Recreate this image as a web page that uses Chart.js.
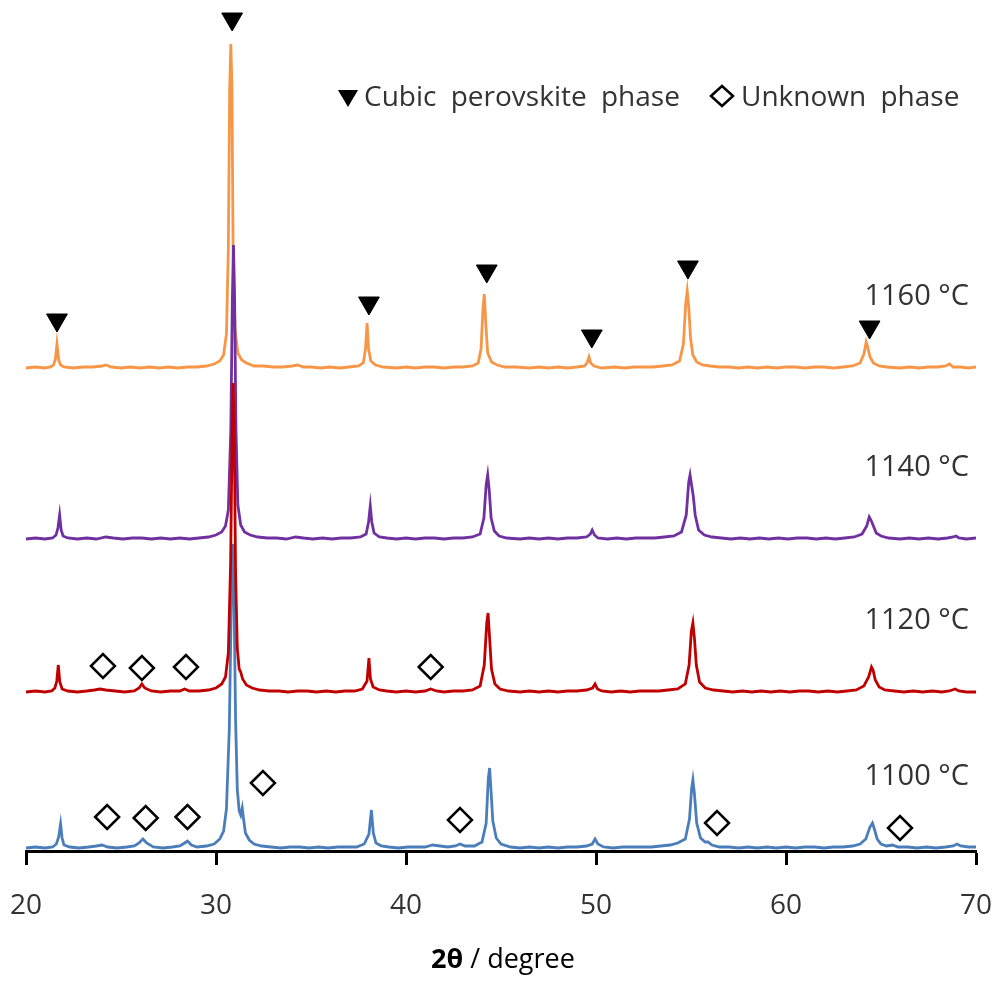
<!DOCTYPE html>
<html>
<head>
<meta charset="utf-8">
<title>XRD patterns</title>
<script src="https://cdn.jsdelivr.net/npm/chart.js@4.4.1/dist/chart.umd.min.js"></script>
<style>
  html, body { margin: 0; padding: 0; background: #fff; }
  #wrap { width: 1000px; height: 981px; }
</style>
</head>
<body>
<div id="wrap"><canvas id="xrd" width="1000" height="981"></canvas></div>
<script>
// 2θ (degree) and intensity above each pattern's own baseline (a.u.)
const theta1100 = [20.0,20.5,21.0,21.4,21.6,21.72,21.82,21.9,22.0,22.3,22.8,23.3,23.7,24.0,24.3,24.8,25.3,25.7,25.95,26.15,26.35,26.7,27.2,27.7,28.1,28.35,28.5,28.7,29.0,29.5,29.9,30.2,30.4,30.55,30.7,30.8,30.88,30.95,31.03,31.12,31.22,31.3,31.38,31.45,31.55,31.75,32.0,32.4,32.9,33.4,33.9,34.4,34.9,35.4,35.9,36.4,36.9,37.4,37.8,38.05,38.18,38.28,38.42,38.7,39.1,39.6,40.1,40.6,41.0,41.4,41.8,42.2,42.6,42.85,43.1,43.6,44.0,44.22,44.33,44.4,44.47,44.57,44.75,45.0,45.5,46.0,46.5,47.0,47.5,48.0,48.5,49.0,49.5,49.8,49.95,50.1,50.4,50.9,51.4,51.9,52.4,52.9,53.4,53.9,54.3,54.7,54.92,55.03,55.1,55.18,55.3,55.5,55.75,55.9,56.1,56.5,57.0,57.5,58.0,58.5,59.0,59.5,60.0,60.5,61.0,61.5,62.0,62.5,63.0,63.5,63.9,64.2,64.42,64.55,64.65,64.8,65.0,65.3,65.6,65.9,66.4,66.9,67.4,67.9,68.4,68.8,69.0,69.2,69.6,70.0];
const int1100   = [1,2,1,2,5,12,25,11,4,2,1,2,3,4,2,1,2,3,6,10,6,2,1,2,3,6,8,4,2,3,5,10,18,40,120,240,305,250,130,60,38,34,41,30,16,9,5,3,2,1,2,2,1,2,1,2,2,2,5,15,39,16,6,3,2,1,2,2,2,4,3,2,3,5,3,3,7,26,70,81,60,28,11,5,2,1,2,1,2,1,2,2,3,5,10,5,2,1,2,2,2,2,3,4,6,10,30,60,69,55,26,11,7,7,4,2,2,1,2,1,2,1,2,1,2,2,1,2,2,3,5,10,22,26,20,10,5,3,4,2,2,1,2,1,2,3,5,3,2,2];

const theta1120 = [20.0,20.5,21.0,21.35,21.52,21.62,21.7,21.78,21.9,22.2,22.7,23.2,23.6,23.9,24.2,24.7,25.2,25.7,25.95,26.1,26.25,26.6,27.1,27.6,28.1,28.35,28.6,29.1,29.6,30.0,30.3,30.5,30.65,30.77,30.85,30.9,30.96,31.03,31.12,31.22,31.3,31.4,31.6,31.9,32.3,32.8,33.3,33.8,34.3,34.8,35.3,35.8,36.3,36.8,37.3,37.7,37.95,38.05,38.13,38.27,38.6,39.0,39.5,40.0,40.5,41.0,41.3,41.6,42.0,42.5,43.0,43.5,43.9,44.12,44.25,44.32,44.4,44.5,44.68,44.95,45.4,46.0,46.5,47.0,47.5,48.0,48.5,49.0,49.5,49.82,49.95,50.08,50.3,50.8,51.3,51.8,52.3,52.8,53.3,53.8,54.3,54.7,54.9,55.02,55.1,55.18,55.28,55.45,55.75,56.2,56.7,57.2,57.7,58.2,58.7,59.2,59.7,60.2,60.7,61.2,61.7,62.2,62.7,63.2,63.7,64.1,64.35,64.5,64.58,64.7,64.9,65.2,65.7,66.2,66.7,67.2,67.7,68.2,68.6,68.9,69.1,69.5,70.0];
const int1120   = [1,2,1,2,5,12,28,11,4,2,1,2,3,4,3,2,1,2,5,9,5,2,1,2,2,4,2,2,3,5,9,16,40,130,260,310,260,120,45,24,21,14,8,5,3,2,2,1,2,2,1,2,1,2,2,4,12,35,14,6,3,2,1,2,1,2,4,2,1,2,2,3,7,28,70,80,55,24,9,4,2,1,2,1,2,1,2,2,3,5,9,4,2,1,2,1,2,2,2,3,4,9,28,62,70,55,28,11,5,3,2,1,2,1,2,1,2,1,2,2,1,2,1,2,3,7,16,26,23,13,6,3,2,1,2,1,2,1,2,4,2,1,1];

const theta1140 = [20.0,20.5,21.0,21.4,21.58,21.68,21.77,21.85,21.95,22.2,22.7,23.2,23.7,24.2,24.6,25.1,25.6,26.1,26.6,27.1,27.6,28.1,28.6,29.1,29.6,30.0,30.3,30.5,30.65,30.78,30.86,30.92,30.98,31.05,31.15,31.3,31.5,31.8,32.2,32.7,33.2,33.7,34.2,34.6,35.1,35.6,36.1,36.6,37.1,37.6,37.9,38.03,38.12,38.2,38.32,38.6,39.0,39.5,40.0,40.5,41.0,41.5,42.0,42.5,43.0,43.5,43.9,44.1,44.22,44.3,44.38,44.48,44.65,44.9,45.3,46.0,46.5,47.0,47.5,48.0,48.5,49.0,49.5,49.7,49.8,49.92,50.1,50.6,51.1,51.6,52.1,52.6,53.1,53.6,54.1,54.5,54.75,54.88,54.95,55.03,55.12,55.22,55.4,55.7,56.1,56.6,57.1,57.6,58.1,58.6,59.1,59.6,60.1,60.6,61.1,61.6,62.1,62.6,63.1,63.6,64.0,64.25,64.38,64.47,64.58,64.75,65.0,65.4,66.0,66.5,67.0,67.5,68.0,68.5,68.8,68.95,69.1,69.5,70.0];
const int1140   = [1,2,1,2,5,12,25,10,4,2,1,2,1,3,2,1,2,2,1,2,1,2,1,2,3,5,8,14,30,110,240,295,240,110,35,15,8,5,3,2,2,1,3,2,1,2,1,2,2,3,6,18,34,18,7,3,2,1,2,1,2,2,1,2,2,3,6,22,55,65,50,22,9,4,2,1,2,1,2,1,2,2,3,6,10,5,2,1,2,1,2,2,2,3,4,8,25,58,65,55,44,25,10,5,3,2,1,2,1,2,1,2,1,2,2,1,2,1,2,3,6,14,23,20,15,7,4,2,1,2,1,2,1,2,3,4,2,1,2];

const theta1160 = [20.0,20.5,21.0,21.3,21.45,21.55,21.63,21.72,21.82,22.0,22.5,23.0,23.5,24.0,24.2,24.5,25.0,25.5,26.0,26.5,27.0,27.5,28.0,28.5,29.0,29.5,29.9,30.2,30.4,30.55,30.65,30.72,30.78,30.84,30.9,31.0,31.15,31.35,31.6,32.0,32.5,33.0,33.5,34.0,34.3,34.6,35.0,35.5,36.0,36.5,37.0,37.5,37.75,37.87,37.95,38.03,38.15,38.4,38.8,39.5,40.0,40.5,41.0,41.5,42.0,42.5,43.0,43.5,43.8,43.95,44.05,44.12,44.2,44.3,44.5,44.8,45.2,45.8,46.5,47.0,47.5,48.0,48.5,49.0,49.4,49.55,49.63,49.72,49.9,50.3,51.0,51.5,52.0,52.5,53.0,53.5,54.0,54.4,54.6,54.72,54.8,54.88,54.98,55.1,55.3,55.6,56.0,56.5,57.0,57.5,58.0,58.5,59.0,59.5,60.0,60.5,61.0,61.5,62.0,62.5,63.0,63.5,63.9,64.1,64.22,64.3,64.42,64.6,64.9,65.3,66.0,66.5,67.0,67.5,68.0,68.4,68.6,68.8,69.2,69.6,70.0];
const int1160   = [1,2,1,2,4,10,25,9,4,2,1,2,2,3,4,2,1,2,1,2,1,2,1,2,2,3,5,8,14,35,120,280,325,280,120,40,16,9,6,3,3,2,2,3,4,2,2,1,2,1,2,3,6,20,46,20,8,4,2,1,2,1,2,2,1,2,2,3,6,20,60,75,45,16,7,4,2,2,1,2,1,2,1,2,3,7,12,6,3,1,2,1,2,2,2,3,4,8,25,65,78,62,30,14,7,4,3,2,2,1,2,1,2,1,2,2,1,2,2,1,2,3,6,15,27,22,12,6,3,2,1,2,1,2,2,3,5,2,2,1,2];

// vertical offset of each pattern in the stack
const traceLabels  = ['1100 °C', '1120 °C', '1140 °C', '1160 °C'];
const traceOffsets = [2, 158, 311, 482];
const traceColors  = ['#4a7ebb', '#c00000', '#7030a0', '#f79646'];

// peak markers (2θ, stacked intensity)
const cubicTheta   = [21.63, 30.85, 38.05, 44.25, 49.78, 54.84, 64.4];
const cubicY       = [531, 832, 548, 580, 515, 584, 524];
const unknownTheta = [24.05, 26.1, 28.42, 41.3, 24.27, 26.3, 28.5, 32.47, 42.84, 56.37, 66.0];
const unknownY     = [185, 183, 184, 184, 34, 33, 34, 68, 31, 28, 23];

const xTicks = [20, 30, 40, 50, 60, 70];

const FONT = '"Open Sans", "Noto Sans", sans-serif';
const TEXT_COLOR = '#333333';

const patterns = [
  { theta: theta1100, y: int1100, order: 3 },
  { theta: theta1120, y: int1120, order: 1 },
  { theta: theta1140, y: int1140, order: 2 },
  { theta: theta1160, y: int1160, order: 4 }
];

const datasets = patterns.map((p, i) => ({
  label: traceLabels[i],
  data: p.theta.map((t, j) => ({ x: t, y: p.y[j] + traceOffsets[i] })),
  showLine: true,
  borderColor: traceColors[i],
  borderWidth: 2.8,
  pointRadius: 0,
  tension: 0,
  order: p.order
}));

datasets.push({
  label: 'Cubic perovskite phase',
  data: cubicTheta.map((t, i) => ({ x: t, y: cubicY[i] })),
  pointStyle: 'triangle',
  rotation: 180,
  radius: 12,
  backgroundColor: '#000',
  borderColor: '#000',
  borderWidth: 1,
  order: 0
});
datasets.push({
  label: 'Unknown phase',
  data: unknownTheta.map((t, i) => ({ x: t, y: unknownY[i] })),
  pointStyle: 'rectRot',
  radius: 12,
  backgroundColor: 'rgba(255,255,255,0)',
  borderColor: '#000',
  borderWidth: 2.5,
  order: 0
});

// legend, temperature labels and axis title drawn on top
const annotations = {
  id: 'annotations',
  afterDraw(chart) {
    const { ctx, scales } = chart;
    ctx.save();
    ctx.fillStyle = TEXT_COLOR;
    ctx.textBaseline = 'middle';

    // temperature labels, right aligned above each trace
    ctx.font = '29px ' + FONT;
    ctx.textAlign = 'right';
    traceLabels.forEach((lab, i) => {
      ctx.fillText(lab, 969, scales.y.getPixelForValue(traceOffsets[i] + 72));
    });

    // legend
    const ly = 98;
    ctx.fillStyle = '#000';
    ctx.beginPath();
    ctx.moveTo(338, ly - 8);
    ctx.lineTo(358, ly - 8);
    ctx.lineTo(348, ly + 9);
    ctx.closePath();
    ctx.fill();
    ctx.strokeStyle = '#000';
    ctx.lineWidth = 2.5;
    ctx.beginPath();
    ctx.moveTo(711, ly - 2);
    ctx.lineTo(722, ly - 12);
    ctx.lineTo(733, ly - 2);
    ctx.lineTo(722, ly + 8);
    ctx.closePath();
    ctx.stroke();
    ctx.fillStyle = TEXT_COLOR;
    ctx.font = '28px ' + FONT;
    ctx.textAlign = 'left';
    if ('wordSpacing' in ctx) ctx.wordSpacing = '7px';
    ctx.fillText('Cubic perovskite phase', 364, ly);
    ctx.fillText('Unknown phase', 741, ly);
    if ('wordSpacing' in ctx) ctx.wordSpacing = '0px';

    // x axis title: bold symbol, regular unit
    ctx.fillStyle = '#000';
    const boldPart = '2θ';
    const restPart = ' / degree';
    ctx.font = 'bold 27px ' + FONT;
    const wb = ctx.measureText(boldPart).width;
    ctx.font = '27px ' + FONT;
    const wr = ctx.measureText(restPart).width;
    const x0 = 503 - (wb + wr) / 2;
    ctx.font = 'bold 27px ' + FONT;
    ctx.fillText(boldPart, x0, 960);
    ctx.font = '27px ' + FONT;
    ctx.fillText(restPart, x0 + wb, 960);
    ctx.restore();
  }
};

new Chart(document.getElementById('xrd'), {
  type: 'scatter',
  data: { datasets },
  options: {
    responsive: false,
    animation: false,
    devicePixelRatio: 1,
    layout: { autoPadding: false, padding: { left: 26, right: 24, top: 0, bottom: 0 } },
    plugins: {
      legend: { display: false },
      tooltip: { enabled: false }
    },
    scales: {
      x: {
        type: 'linear',
        min: 20,
        max: 70,
        afterBuildTicks: (scale) => { scale.ticks = xTicks.map(v => ({ value: v })); },
        afterFit: (scale) => {
          scale.height = 130;
          scale.paddingLeft = 0;
          scale.paddingRight = 0;
        },
        ticks: {
          font: { family: FONT, size: 28 },
          color: TEXT_COLOR,
          padding: 24,
          maxRotation: 0
        },
        grid: {
          drawOnChartArea: false,
          drawTicks: true,
          tickLength: 14,
          tickWidth: 3,
          tickColor: '#000'
        },
        border: { display: true, color: '#000', width: 3 }
      },
      y: {
        display: false,
        min: 0,
        max: 851
      }
    }
  },
  plugins: [annotations]
});
</script>
</body>
</html>
